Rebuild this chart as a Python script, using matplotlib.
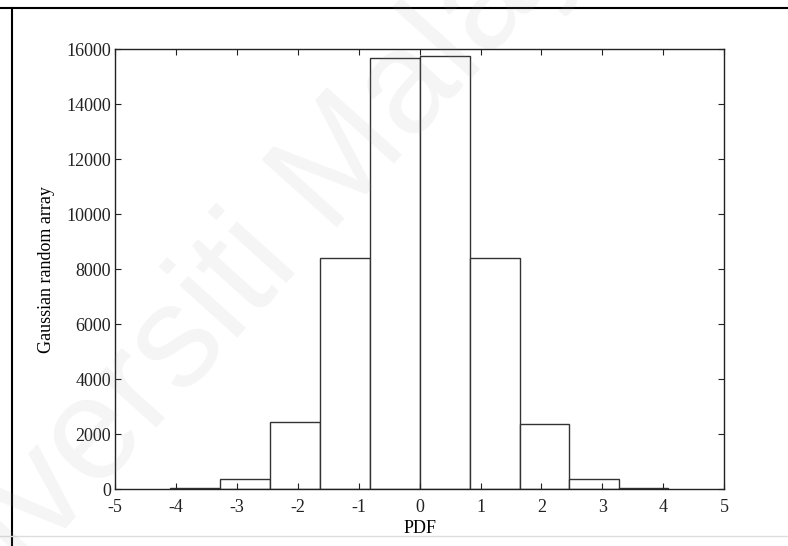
import numpy as np
import matplotlib
matplotlib.use("Agg")
import matplotlib.pyplot as plt
from matplotlib.lines import Line2D

plt.rcParams['font.family'] = ['Liberation Serif', 'DejaVu Serif']

# histogram (10 bins, MATLAB hist style)
bin_edges = [-4.10, -3.28, -2.46, -1.64, -0.82, 0.0, 0.82, 1.64, 2.46, 3.27, 4.08]
counts = [40, 360, 2430, 8390, 15680, 15760, 8420, 2380, 360, 40]
xticks = [-5, -4, -3, -2, -1, 0, 1, 2, 3, 4, 5]
yticks = [0, 2000, 4000, 6000, 8000, 10000, 12000, 14000, 16000]

fig = plt.figure(figsize=(7.88, 5.46), dpi=100)
ax = fig.add_axes([0.146, 0.104, 0.773, 0.806])

edges = np.array(bin_edges)
ax.bar(edges[:-1], counts, width=np.diff(edges), align='edge',
       facecolor='white', edgecolor='#333333', linewidth=1.0)

ax.set_xlim(-5, 5)
ax.set_ylim(0, 16000)
ax.set_xticks(xticks)
ax.set_xticklabels([str(t) for t in xticks])
ax.set_yticks(yticks)
ax.set_yticklabels([str(t) for t in yticks])
ax.tick_params(direction='in', top=True, right=True, length=4, width=0.8,
               labelsize=13, colors='#222222')
ax.tick_params(axis='x', pad=7)
ax.tick_params(axis='y', pad=3)
for sp in ax.spines.values():
    sp.set_linewidth(1.0)
    sp.set_color('#222222')

ax.set_xlabel('PDF', fontsize=13, labelpad=3)
ax.set_ylabel('Gaussian random array', fontsize=13, labelpad=8)

# outer frame of the scanned page (top and left edges)
fig.add_artist(Line2D([0.0, 1.0], [0.986, 0.986], transform=fig.transFigure,
                      color='black', linewidth=1.5))
fig.add_artist(Line2D([0.015, 0.015], [0.0, 0.986], transform=fig.transFigure,
                      color='black', linewidth=1.5))
fig.add_artist(Line2D([0.0, 1.0], [0.018, 0.018], transform=fig.transFigure,
                      color='#dddddd', linewidth=1.0))

# faint watermark
fig.text(0.31, 0.50, 'Universiti Malaya', fontsize=105, color='#9a9a9a',
         alpha=0.10, rotation=48, ha='center', va='center',
         family=['Liberation Sans', 'DejaVu Sans'], zorder=10)

fig.savefig('out.png', dpi=100)
